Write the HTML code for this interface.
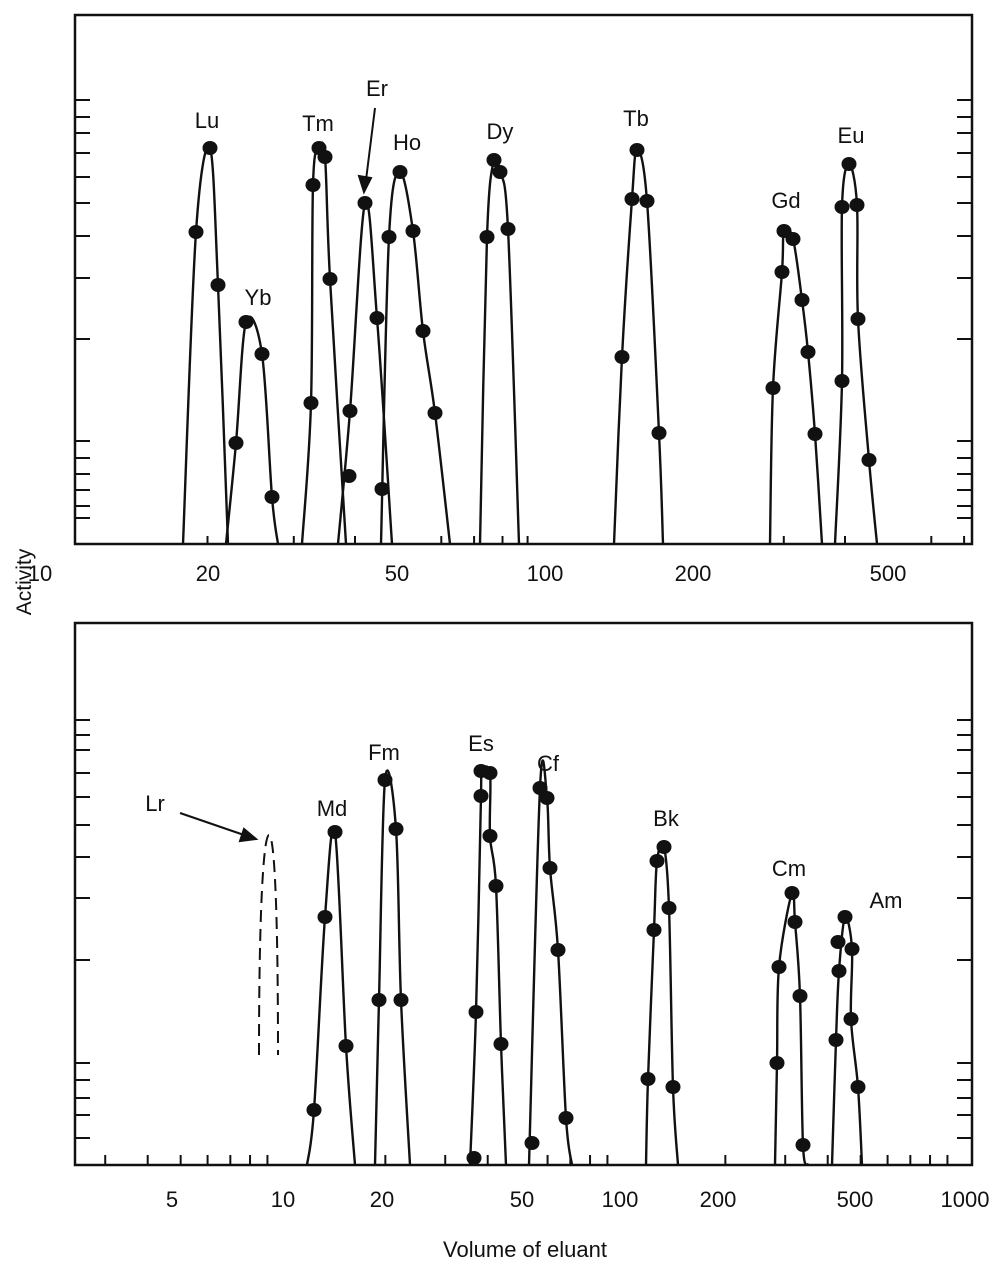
<!DOCTYPE html>
<html><head><meta charset="utf-8"><style>
html,body{margin:0;padding:0;background:#fff}
svg{display:block}
text{font-family:"Liberation Sans",Arial,sans-serif;font-size:22px;fill:#111}
</style></head><body>
<svg id="s" width="1000" height="1278" viewBox="0 0 1000 1278" xmlns="http://www.w3.org/2000/svg">
<rect x="75" y="15" width="897" height="529" fill="none" stroke="#111" stroke-width="2.5"/>
<rect x="75" y="623" width="897" height="542" fill="none" stroke="#111" stroke-width="2.5"/>
<g id="g" stroke="#111" stroke-width="2.4" fill="none"></g>
<g id="d" fill="#111"></g>
<g text-anchor="middle">
<text x="40" y="581">10</text><text x="208" y="581">20</text><text x="397" y="581">50</text><text x="545" y="581">100</text><text x="693" y="581">200</text><text x="888" y="581">500</text>
<text x="172" y="1207">5</text><text x="283" y="1207">10</text><text x="382" y="1207">20</text><text x="522" y="1207">50</text><text x="620" y="1207">100</text><text x="718" y="1207">200</text><text x="855" y="1207">500</text><text x="965" y="1207">1000</text>
<text x="525" y="1257">Volume of eluant</text>
<text x="0" y="0" transform="translate(31,582) rotate(-90)" style="font-size:21px">Activity</text>
<text x="207" y="128">Lu</text><text x="258" y="305">Yb</text><text x="318" y="131">Tm</text><text x="377" y="96">Er</text><text x="407" y="150">Ho</text><text x="500" y="139">Dy</text><text x="636" y="126">Tb</text><text x="786" y="208">Gd</text><text x="851" y="143">Eu</text>
<text x="155" y="811">Lr</text><text x="332" y="816">Md</text><text x="384" y="760">Fm</text><text x="481" y="751">Es</text><text x="548" y="771">Cf</text><text x="666" y="826">Bk</text><text x="789" y="876">Cm</text><text x="886" y="908">Am</text>
</g>
<g stroke="#111" stroke-width="2" fill="#111">
<line x1="375" y1="108" x2="366" y2="180"/><polygon points="364,192 359,176 371,178"/>
<line x1="180" y1="813" x2="244" y2="835"/><polygon points="256,839 240,841 244,829"/>
</g>
<path d="M259,1055 C259,900 264,835 269,835 C274,835 278,900 278,1055" stroke="#111" stroke-width="2" fill="none" stroke-dasharray="12,7"/>
</svg>
<script>
var g=document.getElementById('g'),d=document.getElementById('d'),NS='http://www.w3.org/2000/svg';
function el(p,t,a){var e=document.createElementNS(NS,t);for(var k in a)e.setAttribute(k,a[k]);p.appendChild(e);}
function cr(P){var s='M'+P[0][0]+','+P[0][1];for(var i=0;i<P.length-1;i++){var p0=P[i-1]||P[i],p1=P[i],p2=P[i+1],p3=P[i+2]||P[i+1];
s+=' C'+(p1[0]+(p2[0]-p0[0])/6)+','+(p1[1]+(p2[1]-p0[1])/6)+' '+(p2[0]-(p3[0]-p1[0])/6)+','+(p2[1]-(p3[1]-p1[1])/6)+' '+p2[0]+','+p2[1];}return s;}
function pk(b,pts,y0,e,ex){var P=[[b,y0]].concat(pts,[[e,y0]]);el(g,'path',{d:cr(P)});pts.concat(ex||[]).forEach(function(p){el(d,'ellipse',{cx:p[0],cy:p[1],rx:7.5,ry:7});});}
var T=544,B=1165;
pk(183,[[196,232],[210,148],[218,285]],T,228);
pk(226,[[236,443],[246,322],[262,354],[272,497]],T,278);
pk(302,[[311,403],[313,185],[319,148],[325,157],[330,279]],T,346);
pk(338,[[350,411],[365,203],[377,318]],T,392,[[349,476],[382,489]]);
pk(381,[[389,237],[400,172],[413,231],[423,331],[435,413]],T,450);
pk(480,[[487,237],[494,160],[500,172],[508,229]],T,519);
pk(614,[[622,357],[632,199],[637,150],[647,201],[659,433]],T,663);
pk(770,[[773,388],[782,272],[784,231],[793,239],[802,300],[808,352],[815,434]],T,822);
pk(835,[[842,381],[842,207],[849,164],[857,205],[858,319],[869,460]],T,877);
pk(307,[[314,1110],[325,917],[335,832],[346,1046]],B,355);
pk(375,[[379,1000],[385,780],[396,829],[401,1000]],B,410);
pk(470,[[476,1012],[481,796],[481,771],[490,773],[490,836],[496,886],[501,1044]],B,506,[[474,1158]]);
pk(529,[[540,788],[547,798],[550,868],[558,950],[566,1118]],B,572,[[532,1143]]);
pk(646,[[648,1079],[654,930],[657,861],[664,847],[669,908],[673,1087]],B,678);
pk(775,[[777,1063],[779,967],[792,893],[795,922],[800,996],[803,1145]],B,808);
pk(832,[[836,1040],[839,971],[845,917],[852,949],[851,1019],[858,1087]],B,862,[[838,942]]);
var ty=[100,117,133,153,177,203,236,278,339,441,458,474,490,506,518];
var by=[720,735,750,773,797,825,857,898,960,1063,1080,1098,1115,1138];
function hl(x1,x2,y){el(g,'line',{x1:x1,x2:x2,y1:y,y2:y,'stroke-width':2});}
ty.forEach(function(y){hl(75,90,y);hl(957,972,y);});
by.forEach(function(y){hl(75,90,y);hl(957,972,y);});
function vl(x,y1,y2){el(g,'line',{x1:x,x2:x,y1:y1,y2:y2,'stroke-width':2});}
[20,30,40,60,70,80,90,300,400,600,700].forEach(function(v){var x=60+490*Math.log10(v/10);if(x>76&&x<971){vl(x,544,536);}});
[3,4,5,6,7,8,9,20,30,40,60,70,80,90,200,300,400,500,600,700,800,900].forEach(function(v){var x=283+340*Math.log10(v/10);if(x>76&&x<971){vl(x,1165,1155);}});
</script>
</body></html>
